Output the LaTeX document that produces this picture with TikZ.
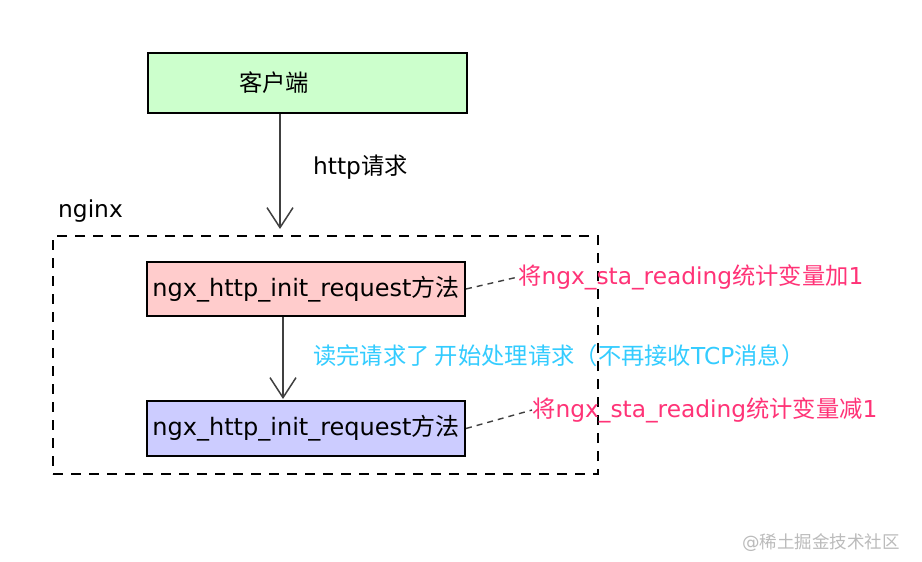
\documentclass[tikz,border=0pt]{standalone}
\usepackage{fontspec}
\setmainfont{DejaVu Sans}
\newfontfamily\cjk{Noto Sans CJK SC}
\usetikzlibrary{arrows.meta}
\definecolor{boxgreen}{HTML}{CCFFCC}
\definecolor{boxpink}{HTML}{FFCCCC}
\definecolor{boxblue}{HTML}{CCCCFF}
\definecolor{notered}{HTML}{FF3377}
\definecolor{notecyan}{HTML}{33CCFF}
\definecolor{wmgray}{HTML}{BBBBBB}
\begin{document}
\begin{tikzpicture}[x=1pt,y=-1pt,
  every node/.style={font=\fontsize{23.3}{27}\selectfont},
  procbox/.style={draw=black,line width=2pt,minimum width=318pt,minimum height=55pt,inner sep=0pt,font=\fontsize{24}{28}\selectfont},
  flow/.style={draw=black!75,line width=1.5pt,-{Straight Barb[length=20pt,width=26pt,line width=1.5pt]}},
  note/.style={draw=black!75,line width=1.4pt,dash pattern=on 6pt off 5pt},
  txt/.style={inner sep=0pt,anchor=west}]
\fill[white] (0,0) rectangle (922,562);
% client
\node[procbox,fill=boxgreen,minimum width=319pt,minimum height=60pt] (client) at (307.5,83) {};
\node[txt,anchor=center] (clientlabel) at (274,83) {\cjk 客户端};
% nginx group
\node[draw=black,line width=2pt,dash pattern=on 10pt off 8pt,minimum width=545pt,minimum height=238pt,inner sep=0pt] (nginx) at (325.5,355) {};
\node[txt] (nginxlabel) at (58,211) {nginx};
% processing boxes
\node[procbox,fill=boxpink,minimum height=54pt] (init) at (306,289) {ngx\_http\_init\_request{\cjk 方法}};
\node[procbox,fill=boxblue] (proc) at (306,428.5) {ngx\_http\_init\_request{\cjk 方法}};
% arrows
\coordinate (a1) at (280,229);
\draw[flow] (client.south -| a1) -- (a1);
\node[txt] (httplabel) at (313,167) {http{\cjk 请求}};
\coordinate (a2) at (283,399);
\draw[flow] (init.south -| a2) -- (a2);
\node[txt,text=notecyan] (readlabel) at (313,356) {{\cjk 读完请求了 开始处理请求（不再接收}TCP{\cjk 消息）}};
% notes
\node[txt,text=notered] (note1) at (518,277) {{\cjk 将}ngx\_sta\_reading{\cjk 统计变量加}1};
\node[txt,text=notered] (note2) at (532,410) {{\cjk 将}ngx\_sta\_reading{\cjk 统计变量减}1};
\draw[note] (init.east) -- (note1.west);
\draw[note] (proc.east) -- (note2.west);
% watermark
\node[txt,text=wmgray,font=\fontsize{17.5}{20}\selectfont] (wm) at (742,543) {@{\cjk 稀土掘金技术社区}};
\end{tikzpicture}
\end{document}
